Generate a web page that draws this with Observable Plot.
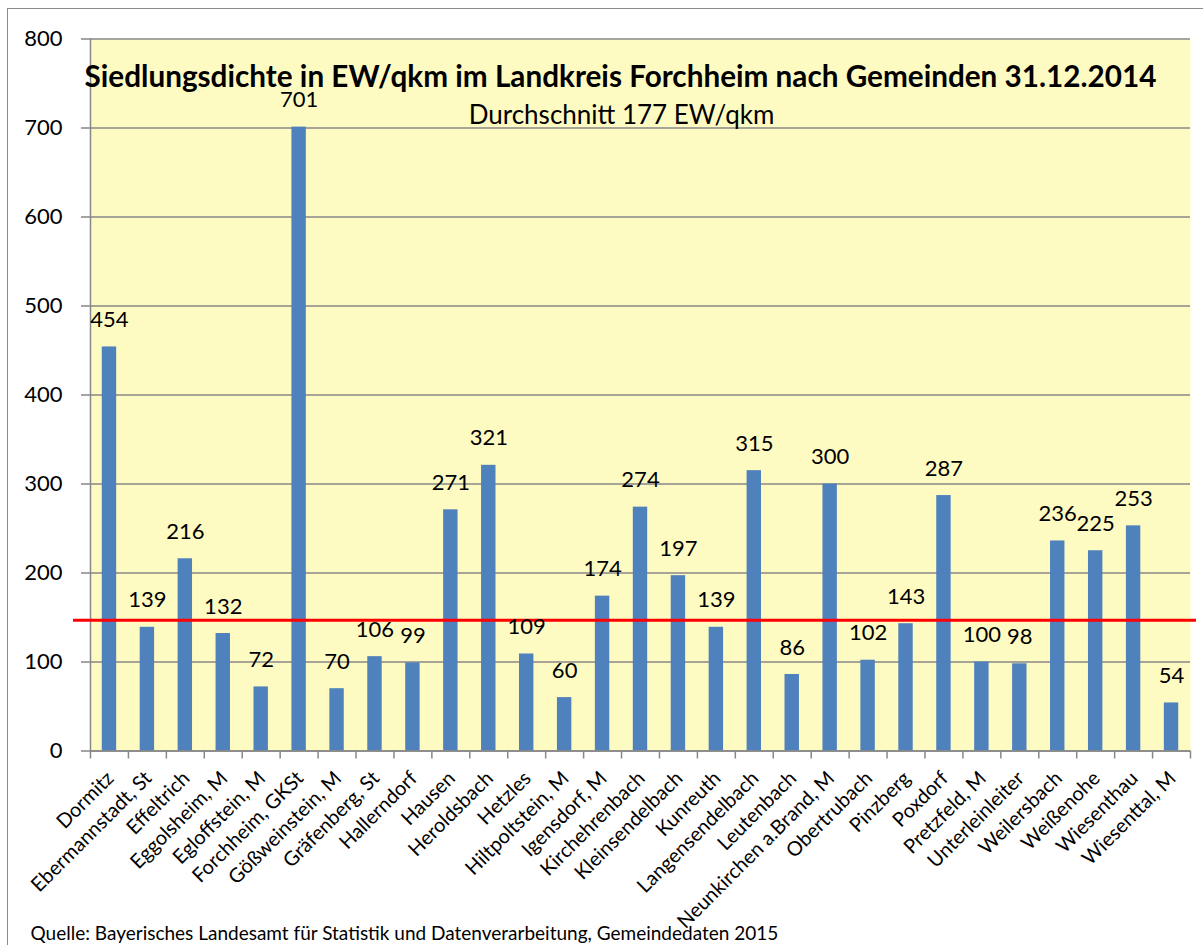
<!DOCTYPE html>
<html>
<head>
<meta charset="utf-8">
<script src="https://cdn.jsdelivr.net/npm/d3@7"></script>
<script src="https://cdn.jsdelivr.net/npm/@observablehq/plot@0.6"></script>
<style>
  html, body { margin: 0; padding: 0; background: white; overflow: hidden; }
  #wrap { position: relative; width: 1203px; height: 945px; }
  #border { position: absolute; left: 7px; top: 8px; width: 1300px; height: 1100px; border: 1px solid #8c8c8c; pointer-events: none; }
  #chart { position: absolute; left: 0; top: 0; }
</style>
</head>
<body>
<div id="wrap"><div id="chart"></div><div id="border"></div></div>
<script>
const categories = ["Dormitz", "Ebermannstadt, St", "Effeltrich", "Eggolsheim, M", "Egloffstein, M", "Forchheim, GKSt", "Gößweinstein, M", "Gräfenberg, St", "Hallerndorf", "Hausen", "Heroldsbach", "Hetzles", "Hiltpoltstein, M", "Igensdorf, M", "Kirchehrenbach", "Kleinsendelbach", "Kunreuth", "Langensendelbach", "Leutenbach", "Neunkirchen a.Brand, M", "Obertrubach", "Pinzberg", "Poxdorf", "Pretzfeld, M", "Unterleinleiter", "Weilersbach", "Weißenohe", "Wiesenthau", "Wiesenttal, M"];
const values = [454, 139, 216, 132, 72, 701, 70, 106, 99, 271, 321, 109, 60, 174, 274, 197, 139, 315, 86, 300, 102, 143, 287, 100, 98, 236, 225, 253, 54];
const yTicks = [0, 100, 200, 300, 400, 500, 600, 700, 800];
const avgLine = [147];
const title = "Siedlungsdichte in EW/qkm im Landkreis Forchheim nach Gemeinden 31.12.2014";
const subtitle = "Durchschnitt 177 EW/qkm";
const caption = "Quelle: Bayerisches Landesamt für Statistik und Datenverarbeitung, Gemeindedaten 2015";

const W = 1203, H = 945, ML = 90, MR = 13, MT = 38.5, MB = 194.5;
const PAD = 0.62;
const step = (W - ML - MR) / categories.length;
const grey = "#878787";
const data = categories.map((c, i) => ({name: c, value: values[i]}));

const chart = Plot.plot({
  width: W, height: H,
  marginLeft: ML, marginRight: MR, marginTop: MT, marginBottom: MB,
  x: {domain: categories, paddingInner: PAD, paddingOuter: PAD / 2, round: false, label: null},
  y: {domain: [0, 800], label: null},
  style: {fontFamily: "Lato, 'Noto Sans', sans-serif", fontSize: "22px", background: "transparent", overflow: "visible", color: "black"},
  marks: [
    Plot.frame({fill: "#FEFBC2", stroke: "none"}),
    Plot.gridY(yTicks, {stroke: grey, strokeOpacity: 1, strokeWidth: 1.5}),
    Plot.axisY(yTicks, {tickSize: 9, tickPadding: 19, stroke: grey, strokeWidth: 1.5, fill: "black", fontSize: 22, label: null}),
    Plot.barY(data, {x: "name", y: "value", fill: "#4F81BD"}),
    Plot.ruleY([0], {stroke: grey, strokeWidth: 1.5}),
    Plot.ruleX([categories[0]], {x: d => d, y1: 0, y2: 800, dx: -step / 2, stroke: grey, strokeWidth: 1.5}),
    Plot.ruleX(categories, {x: d => d, y1: 0, y2: -9, dx: -step / 2, stroke: grey, strokeWidth: 1.5}),
    Plot.ruleX([categories[categories.length - 1]], {x: d => d, y1: 0, y2: -9, dx: step / 2, stroke: grey, strokeWidth: 1.5}),
    Plot.axisX({tickSize: 0, tickRotate: -45, tickPadding: 24, dx: 1, fontSize: 20, fill: "black", label: null}),
    Plot.ruleY(avgLine, {stroke: "#FF0000", strokeWidth: 3, insetLeft: -17, insetRight: -6}),
    Plot.text(data, {x: "name", y: "value", text: d => String(d.value), dy: -27, fontSize: 22, lineAnchor: "middle", fill: "black"}),
    Plot.text([title], {frameAnchor: "top", dx: -20, dy: 38, fontWeight: "bold", fontSize: 29.7, lineAnchor: "middle", fill: "black"}),
    Plot.text([subtitle], {frameAnchor: "top", dx: -19, dy: 77, fontSize: 26, lineAnchor: "middle", fill: "black"}),
    Plot.text([caption], {frameAnchor: "bottom-left", dx: -60, dy: 183, textAnchor: "start", fontSize: 19, lineAnchor: "middle", fill: "black"})
  ]
});
document.getElementById("chart").appendChild(chart);
</script>
</body>
</html>
